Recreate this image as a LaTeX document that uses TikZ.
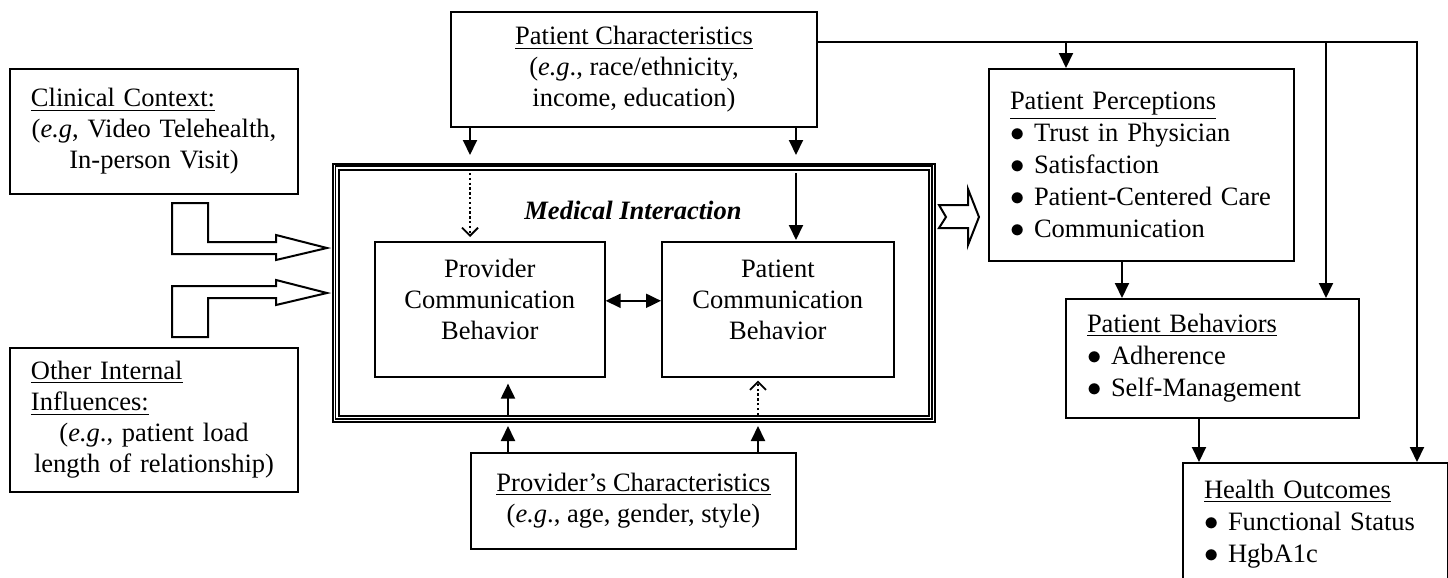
\documentclass[tikz,border=0pt]{standalone}
\usepackage{fontspec}
\setmainfont{Liberation Serif}
\usetikzlibrary{arrows.meta,calc}
\newcommand{\bitem}[1]{\makebox[12pt][l]{$\bullet$}#1}
\newcommand{\hdl}[1]{\makebox[\hsize][l]{\underline{#1}}}

\begin{document}
\begin{tikzpicture}[x=0.5pt, y=-0.5pt,
    box/.style={draw, line width=1pt, anchor=north west, inner sep=0pt, font=\fontsize{13.25pt}{15.5pt}\selectfont},
    sidebox/.style={box, align=center, text width=123pt, inner xsep=10.5pt, minimum height=#1},
    listbox/.style={box, align=left, inner xsep=10.5pt, font=\fontsize{13.25pt}{16pt}\selectfont},
    commbox/.style={box, line width=0.8pt, align=center, minimum height=67.5pt, text depth=9.5pt},
    arr/.style={line width=1pt, -{Triangle[length=7.5pt,width=7pt]}},
    dotarr/.style={line width=0.9pt, dash pattern=on 1.2pt off 1.2pt, -{Straight Barb[length=4pt,width=8pt]}},
    blockarr/.style={draw, line width=1pt, line join=miter, fill=white}
  ]
  \useasboundingbox (0,0) rectangle (1448,578);
  \clip (0,0) rectangle (1448,578);

  % Left side influences
  \node[sidebox=62.5pt] (cc) at (9,68) {
    \hdl{Clinical Context:}\\
    (\textit{e.g}, Video Telehealth,\\
    In-person Visit)
  };
  \node[sidebox=72pt] (oi) at (9,347) {
    \hdl{Other Internal}\\
    \hdl{Influences:}\\
    (\textit{e.g}., patient load\\
    length of relationship)
  };

  % Patient Characteristics
  \node[box, align=center, minimum width=183pt, minimum height=57.5pt] (pc) at (450,11) {
    \underline{Patient Characteristics}\\
    (\textit{e.g}., race/ethnicity,\\
    income, education)
  };

  % Medical Interaction frame
  \node[draw, line width=1pt, anchor=north west, inner sep=0pt, minimum width=300.75pt, minimum height=129pt] (mi) at (332,162.5) {};
  \draw[line width=0.6pt] ([shift={(1.75pt,-1.75pt)}]mi.north west) rectangle ([shift={(-1.75pt,1.75pt)}]mi.south east);
  \draw[line width=1pt] ([shift={(3.5pt,-3.5pt)}]mi.north west) rectangle ([shift={(-3.5pt,3.5pt)}]mi.south east);
  \node[font=\fontsize{13.25pt}{15.5pt}\selectfont\bfseries\itshape] (mitxt) at (633,210) {Medical Interaction};

  \node[commbox, minimum width=115pt] (pcb) at (374,241) {Provider\\ Communication\\ Behavior};
  \node[commbox, minimum width=116pt] (ptb) at (661,241) {Patient\\ Communication\\ Behavior};

  % Provider's Characteristics
  \node[box, align=center, minimum width=162.5pt, minimum height=48pt] (pv) at (470,452) {
    \underline{Provider's Characteristics}\\
    (\textit{e.g}., age, gender, style)
  };

  % Outcomes chain
  \node[listbox, text width=131.5pt, minimum height=96pt] (pp) at (988,68) {
    \underline{Patient Perceptions}\\
    \bitem{Trust in Physician}\\
    \bitem{Satisfaction}\\
    \bitem{Patient-Centered Care}\\
    \bitem{Communication}
  };
  \node[listbox, text width=125.5pt, minimum height=59.5pt] (pb) at (1065,298) {
    \underline{Patient Behaviors}\\
    \bitem{Adherence}\\
    \bitem{Self-Management}
  };
  \node[listbox, text width=111.5pt, minimum height=61pt] (ho) at (1182,462) {
    \underline{Health Outcomes}\\
    \bitem{Functional Status}\\
    \bitem{HgbA1c}
  };

  % arrow columns
  \coordinate (xa) at (470,0);
  \coordinate (xb) at (796,0);
  \coordinate (xc) at (508,0);
  \coordinate (xd) at (758,0);
  \coordinate (xp) at (1066,0);
  \coordinate (xq) at (1326,0);
  \coordinate (xr) at (1417,0);
  \coordinate (xs) at (1122,0);
  \coordinate (xt) at (1199,0);
  \coordinate (tl) at ([yshift=13.75pt]pc.east);

  % into the interaction
  \draw[arr, shorten >=3.75pt] (pc.south -| xa) -- (mi.north -| xa);
  \draw[arr, shorten >=3.75pt] (pc.south -| xb) -- (mi.north -| xb);
  \draw[dotarr, shorten <=5.25pt, shorten >=2pt] (mi.north -| xa) -- (pcb.north -| xa);
  \draw[arr, shorten <=5.25pt, shorten >=0.5pt] (mi.north -| xb) -- (ptb.north -| xb);
  \draw[line width=1pt, {Triangle[length=7.5pt,width=7pt]}-{Triangle[length=7.5pt,width=7pt]}] ([yshift=4.25pt]pcb.east) -- ([yshift=4.25pt]ptb.west);
  \draw[arr, shorten >=1.75pt] (pv.north -| xc) -- (mi.south -| xc);
  \draw[arr, shorten >=1.75pt] (pv.north -| xd) -- (mi.south -| xd);
  \draw[arr, shorten <=3.75pt, shorten >=3pt] (mi.south -| xc) -- (pcb.south -| xc);
  \draw[dotarr, shorten <=3.75pt, shorten >=1.5pt] (mi.south -| xd) -- (ptb.south -| xd);

  % block arrows
  \draw[blockarr] (172,203) -- (208,203) -- (208,242) -- (276,242) -- (276,235) -- (327,248) -- (276,260) -- (276,254) -- (172,254) -- cycle;
  \draw[blockarr] (172,337) -- (172,286) -- (276,286) -- (276,280) -- (327,293) -- (276,305) -- (276,298) -- (208,298) -- (208,337) -- cycle;
  \draw[blockarr] (939,205) -- (968,205) -- (968,189) -- (979,217) -- (968,245) -- (968,228) -- (939,228) -- (946,217) -- cycle;

  % right side paths
  \draw[arr] (tl) -| (ho.north -| xr);
  \draw[arr] (tl -| xp) -- (pp.north -| xp);
  \draw[arr] (tl -| xq) -- (pb.north -| xq);
  \draw[arr] (pp.south -| xs) -- (pb.north -| xs);
  \draw[arr] (pb.south -| xt) -- (ho.north -| xt);
\end{tikzpicture}
\end{document}
